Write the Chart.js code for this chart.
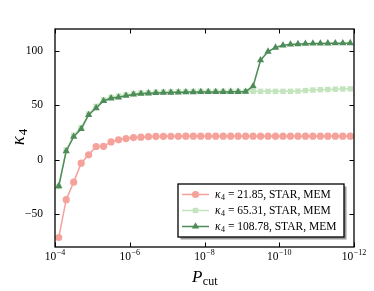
<!DOCTYPE html>
<html>
<head>
<meta charset="utf-8">
<script src="https://cdn.jsdelivr.net/npm/chart.js@4.4.1/dist/chart.umd.min.js"></script>
<style>
  html, body { margin: 0; padding: 0; background: #fff; }
  #wrap { width: 374px; height: 291px; position: relative; }
</style>
</head>
<body>
<div id="wrap"><canvas id="c" width="374" height="291"></canvas></div>
<script>
// ---- data ----
const pcutExp = [-4.1, -4.3, -4.5, -4.7, -4.9, -5.1, -5.3, -5.5, -5.7, -5.9,
                 -6.1, -6.3, -6.5, -6.7, -6.9, -7.1, -7.3, -7.5, -7.7, -7.9,
                 -8.1, -8.3, -8.5, -8.7, -8.9, -9.1, -9.3, -9.5, -9.7, -9.9,
                 -10.1, -10.3, -10.5, -10.7, -10.9, -11.1, -11.3, -11.5, -11.7, -11.9];
const kappaRed = [-71.3, -36.6, -20.5, -3.1, 4.6, 12.2, 12.4, 16.4, 18.3, 19.5,
                  20.4, 20.8, 21.2, 21.4, 21.5, 21.6, 21.6, 21.7, 21.7, 21.7,
                  21.7, 21.7, 21.7, 21.7, 21.7, 21.7, 21.7, 21.7, 21.7, 21.7,
                  21.7, 21.7, 21.7, 21.7, 21.7, 21.7, 21.7, 21.7, 21.7, 21.7];
const kappaLight = [-24.5, 9.0, 22.5, 29.5, 42.0, 49.0, 55.0, 57.3, 58.5, 59.6,
                    60.7, 61.3, 61.7, 62.0, 62.2, 62.4, 62.5, 62.6, 62.7, 62.8,
                    62.8, 62.8, 62.8, 62.8, 62.8, 62.8, 62.8, 62.8, 62.8, 62.8,
                    62.8, 62.8, 63.0, 63.5, 64.0, 64.3, 64.5, 64.8, 65.0, 65.1];
const kappaDark = [-24.1, 7.9, 21.3, 28.3, 41.1, 47.5, 54.0, 56.4, 57.3, 58.8,
                   60.0, 60.6, 61.0, 61.3, 61.5, 61.7, 61.9, 62.0, 62.1, 62.2,
                   62.2, 62.3, 62.3, 62.4, 62.4, 62.5, 67.5, 91.4, 99.3, 103.0,
                   105.0, 105.8, 106.2, 106.5, 106.7, 106.8, 106.9, 107.0, 107.0, 107.1];
const legendValues = ['21.85', '65.31', '108.78'];
const legendSuffix = ', STAR, MEM';
const xTickExps = [-4, -6, -8, -10, -12];
const yTickValues = [-50, 0, 50, 100];

const SERIF = "'Liberation Serif', 'DejaVu Serif', serif";
const colRed = '#f5a29b';
const colLight = '#c3e4bd';
const colDark = '#4d8c58';

function pts(vals) { return pcutExp.map((e, i) => ({ x: Math.pow(10, e), y: vals[i] })); }

const datasets = [
  { label: 'kappa4 = ' + legendValues[0] + legendSuffix, data: pts(kappaRed),
    borderColor: colRed, backgroundColor: colRed, pointStyle: 'circle', pointRadius: 3.6,
    borderWidth: 1.5, pointBorderWidth: 0, order: 2 },
  { label: 'kappa4 = ' + legendValues[1] + legendSuffix, data: pts(kappaLight),
    borderColor: colLight, backgroundColor: colLight, pointStyle: 'rect', pointRadius: 3.8,
    borderWidth: 1.5, pointBorderWidth: 0, order: 1 },
  { label: 'kappa4 = ' + legendValues[2] + legendSuffix, data: pts(kappaDark),
    borderColor: colDark, backgroundColor: colDark, pointStyle: 'triangle', pointRadius: 4.2,
    borderWidth: 1.5, pointBorderWidth: 0, order: 0 }
];

function drawKappa(ctx, x, y, size, align) {
  ctx.font = 'italic ' + size + 'px ' + SERIF;
  const wk = ctx.measureText('\u03BA').width;
  const subSize = Math.round(size * 0.7);
  ctx.font = subSize + 'px ' + SERIF;
  const w4 = ctx.measureText('4').width;
  const total = wk + w4 + size * 0.05;
  let x0 = x;
  if (align === 'center') x0 = x - total / 2;
  ctx.textAlign = 'left';
  ctx.textBaseline = 'alphabetic';
  ctx.font = 'italic ' + size + 'px ' + SERIF;
  ctx.fillText('\u03BA', x0, y);
  ctx.font = subSize + 'px ' + SERIF;
  ctx.fillText('4', x0 + wk + size * 0.05, y + size * 0.18);
  return total;
}

const decor = {
  id: 'decor',
  afterDraw(chart) {
    const ctx = chart.ctx;
    const a = chart.chartArea;
    const xs = chart.scales.x, ys = chart.scales.y;
    ctx.save();
    ctx.strokeStyle = '#000';
    ctx.lineWidth = 1;
    const tl = 4.5;
    ctx.beginPath();
    xs.ticks.forEach(t => {
      const px = Math.round(xs.getPixelForValue(t.value)) + 0.5;
      ctx.moveTo(px, a.bottom); ctx.lineTo(px, a.bottom - tl);
      ctx.moveTo(px, a.top); ctx.lineTo(px, a.top + tl);
    });
    ys.ticks.forEach(t => {
      const py = Math.round(ys.getPixelForValue(t.value)) + 0.5;
      ctx.moveTo(a.left, py); ctx.lineTo(a.left + tl, py);
      ctx.moveTo(a.right, py); ctx.lineTo(a.right - tl, py);
    });
    ctx.stroke();
    ctx.lineWidth = 1.3;
    ctx.strokeRect(a.left, a.top, a.right - a.left, a.bottom - a.top);

    // x tick labels: 10 with superscript exponent
    ctx.fillStyle = '#000';
    ctx.textBaseline = 'alphabetic';
    ctx.textAlign = 'left';
    xs.ticks.forEach(t => {
      const px = xs.getPixelForValue(t.value);
      const ex = Math.round(Math.log10(t.value));
      const expStr = (ex < 0 ? '\u2212' : '') + Math.abs(ex);
      ctx.font = '11.5px ' + SERIF;
      const wb = ctx.measureText('10').width;
      ctx.font = '8px ' + SERIF;
      const we = ctx.measureText(expStr).width;
      const x0 = px - (wb + we + 0.5) / 2;
      ctx.font = '11.5px ' + SERIF;
      ctx.fillText('10', x0, 259.5);
      ctx.font = '8px ' + SERIF;
      ctx.fillText(expStr, x0 + wb + 0.5, 255);
    });

    // legend
    const bw = 166, bh = 53;
    const bx = a.right - 10 - bw, by = a.bottom - 10 - bh;
    ctx.fillStyle = 'rgba(110,110,110,0.7)';
    ctx.fillRect(bx + 2.5, by + 2.5, bw, bh);
    ctx.fillStyle = '#fff';
    ctx.fillRect(bx, by, bw, bh);
    ctx.strokeStyle = '#000';
    ctx.lineWidth = 1.3;
    ctx.strokeRect(bx, by, bw, bh);
    [0, 1, 2].forEach(i => {
      const ds = chart.data.datasets[i];
      const cy = by + 10.5 + i * 16;
      ctx.strokeStyle = ds.borderColor;
      ctx.lineWidth = 1.5;
      ctx.beginPath();
      ctx.moveTo(bx + 4, cy); ctx.lineTo(bx + 31, cy);
      ctx.stroke();
      ctx.fillStyle = ds.backgroundColor;
      Chart.helpers.drawPoint(ctx, { pointStyle: ds.pointStyle, radius: ds.pointRadius, borderWidth: 0, rotation: 0 }, bx + 17.5, cy);
      ctx.fillStyle = '#000';
      const fs = 11.5;
      const tx = bx + 37;
      const ty = cy + 3.5;
      const wk = drawKappa(ctx, tx, ty, fs, 'left');
      ctx.font = fs + 'px ' + SERIF;
      ctx.textAlign = 'left';
      ctx.fillText(' = ' + legendValues[i] + legendSuffix, tx + wk, ty);
    });

    // axis titles
    ctx.fillStyle = '#000';
    const pSize = 17, sSize = 12;
    ctx.font = 'italic ' + pSize + 'px ' + SERIF;
    const wP = ctx.measureText('P').width;
    ctx.font = sSize + 'px ' + SERIF;
    const wc = ctx.measureText('cut').width;
    const cx = (a.left + a.right) / 2;
    const x0 = cx - (wP + wc) / 2;
    ctx.textAlign = 'left';
    ctx.textBaseline = 'alphabetic';
    ctx.font = 'italic ' + pSize + 'px ' + SERIF;
    ctx.fillText('P', x0, 281.5);
    ctx.font = sSize + 'px ' + SERIF;
    ctx.fillText('cut', x0 + wP + 0.5, 284.5);
    ctx.save();
    ctx.translate(23.5, (a.top + a.bottom) / 2 - 1);
    ctx.rotate(-Math.PI / 2);
    drawKappa(ctx, 0, 0, 19, 'center');
    ctx.restore();
    ctx.restore();
  }
};

new Chart(document.getElementById('c'), {
  type: 'line',
  data: { datasets },
  options: {
    responsive: false,
    animation: false,
    devicePixelRatio: 1,
    layout: { padding: { top: 29, right: 20, left: 0, bottom: 0 } },
    plugins: { legend: { display: false }, tooltip: { enabled: false } },
    scales: {
      x: {
        type: 'logarithmic',
        min: 1e-12, max: 1e-4,
        reverse: true,
        grid: { display: false },
        border: { display: false },
        afterBuildTicks: s => { s.ticks = xTickExps.map(e => ({ value: Math.pow(10, e) })); },
        afterFit: s => { s.height = 44; },
        ticks: { display: false, autoSkip: false }
      },
      y: {
        type: 'linear',
        min: -80, max: 120,
        grid: { display: false },
        border: { display: false },
        afterBuildTicks: s => { s.ticks = yTickValues.map(v => ({ value: v })); },
        afterFit: s => { s.width = 55; },
        ticks: {
          padding: 4,
          color: '#000', font: { family: SERIF, size: 11.5 },
          callback: v => (v < 0 ? '\u2212' + Math.abs(v) : String(v))
        }
      }
    }
  },
  plugins: [decor]
});
</script>
</body>
</html>
